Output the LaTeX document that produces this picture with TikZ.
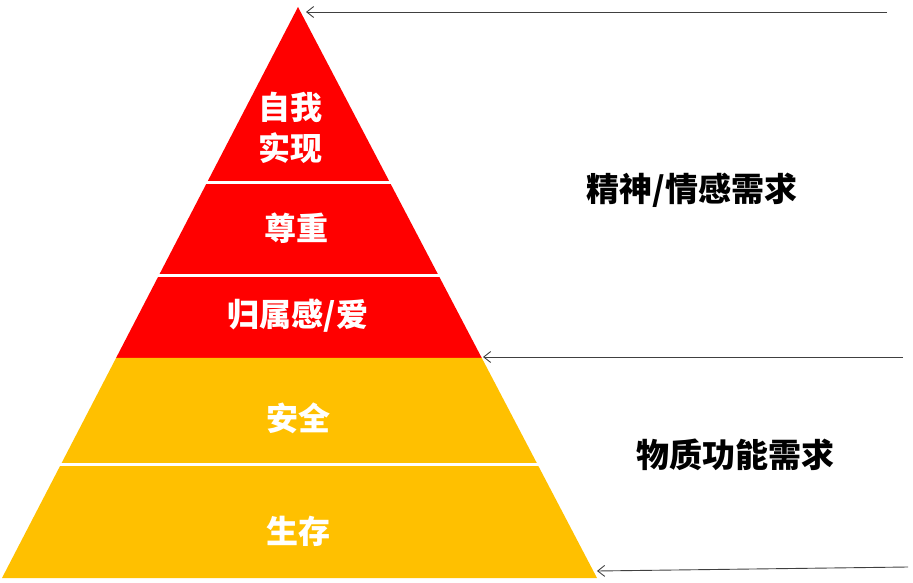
\documentclass[tikz,border=0pt]{standalone}
\usepackage{fontspec}
\newfontfamily\cjk{Noto Sans CJK SC}
\usetikzlibrary{positioning,arrows.meta,calc}
\definecolor{tierred}{HTML}{FF0000}
\definecolor{tiergold}{HTML}{FFC000}
\definecolor{pointer}{HTML}{404040}

\begin{document}
\begin{tikzpicture}[
  x=1pt,y=-1pt,>={Straight Barb[length=7pt,width=11pt]},
  tier/.style={font=\cjk\bfseries\fontsize{32}{41}\selectfont,text=white,align=center,inner sep=0pt},
  group/.style={font=\cjk\bfseries\fontsize{33}{40}\selectfont,text=black,inner sep=0pt},
  sep/.style={white,line width=3pt},
  arr/.style={->,pointer,line width=0.9pt},
]
  \useasboundingbox (0,0) rectangle (913,583);
  % pyramid corners
  \coordinate (apex) at (298,7);
  \coordinate (bl) at (2,578);
  \coordinate (br) at (597,578);
  % red part (upper three tiers), gold part (lower two)
  \fill[tierred] (apex) -- ($(apex)!0.6147!(bl)$) -- ($(apex)!0.6147!(br)$) -- cycle;
  \fill[tiergold] ($(apex)!0.6147!(bl)$) -- (bl) -- (br) -- ($(apex)!0.6147!(br)$) -- cycle;
  % white gaps between tiers
  \draw[sep] (0,182) -- (600,182);
  \draw[sep] (0,275) -- (600,275);
  \draw[sep] (0,464) -- (600,464);

  \node[tier] (t-self) at (290,128) {自我\\实现};
  \node[tier] (t-esteem) at (296,228) {尊重};
  \node[tier] (t-love) at (298,316) {归属感/爱};
  \node[tier] (t-safety) at (298,418) {安全};
  \node[tier] (t-life) at (298,531) {生存};

  \node[group] (g-mind) at (692,190) {精神/情感需求};
  \node[group] (g-body) at (735,455) {物质功能需求};

  % pointers
  \coordinate (p1s) at (887,12);
  \coordinate (p1e) at (306,12);
  \coordinate (p2s) at (903,357);
  \coordinate (p2e) at (483,357);
  \coordinate (p3s) at (908,567);
  \coordinate (p3e) at (597,571);
  \draw[arr] (p1s) -- (p1e);
  \draw[arr] (p2s) -- (p2e);
  \draw[arr] (p3s) -- (p3e);
\end{tikzpicture}
\end{document}
